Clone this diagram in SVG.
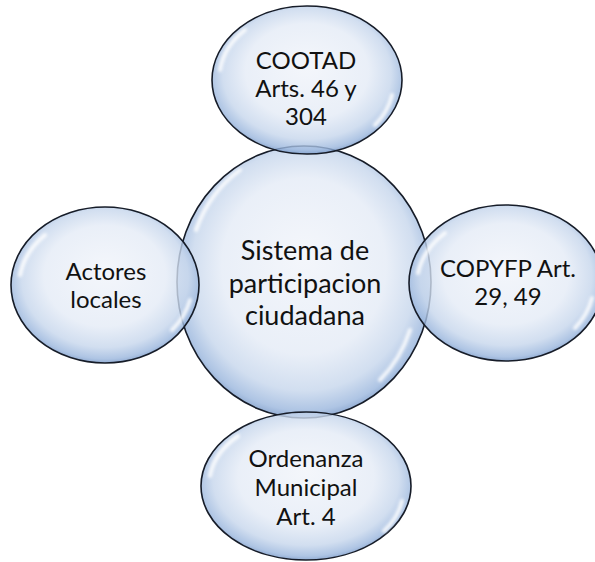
<svg xmlns="http://www.w3.org/2000/svg" width="595" height="562" viewBox="0 0 595 562">
<defs>
<radialGradient id="bub" cx="50%" cy="47%" r="54%" fx="50%" fy="40%">
<stop offset="0" stop-color="#f1f4fa"/>
<stop offset="0.6" stop-color="#e4ebf6"/>
<stop offset="0.82" stop-color="#c6d6ec"/>
<stop offset="0.94" stop-color="#9ab6dd"/>
<stop offset="1" stop-color="#6c8fc2"/>
</radialGradient>
<filter id="blur" x="-20%" y="-20%" width="140%" height="140%"><feGaussianBlur stdDeviation="1.8"/></filter>
</defs>
<style>
.b{fill:url(#bub);fill-opacity:0.8;stroke:#161c28;stroke-width:1.6}
.h{fill:none;stroke:#ffffff;stroke-width:4;stroke-linecap:round;opacity:0.85;filter:url(#blur)}
text{font-family:Lato,"Liberation Sans",sans-serif;fill:#111;text-anchor:middle}
.n{font-size:24px}
.c{font-size:27px}
</style>
<rect width="595" height="562" fill="#fff"/>
<g id="connectors"></g>
<g id="center">
<ellipse class="b" cx="304" cy="282" rx="127" ry="136"/>
<path class="h" d="M196,230 A118,126 0 0 1 240,170"/>
<path class="h" d="M410,330 A118,126 0 0 1 380,380"/>
<text class="c"><tspan x="305" y="260">Sistema de</tspan><tspan x="305" y="293">participacion</tspan><tspan x="305" y="325">ciudadana</tspan></text>
</g>
<g id="top">
<ellipse class="b" cx="307" cy="80" rx="95" ry="74"/>
<path class="h" d="M220,70 A87,68 0 0 1 245,30"/>
<path class="h" d="M392,95 A87,68 0 0 1 375,125"/>
<text class="n"><tspan x="306" y="69">COOTAD</tspan><tspan x="306" y="97">Arts. 46 y</tspan><tspan x="306" y="125">304</tspan></text>
</g>
<g id="left">
<ellipse class="b" cx="105" cy="285" rx="94" ry="78"/>
<path class="h" d="M20,275 A86,72 0 0 1 45,235"/>
<path class="h" d="M190,300 A86,72 0 0 1 172,330"/>
<text class="n"><tspan x="106" y="280">Actores</tspan><tspan x="106" y="308">locales</tspan></text>
</g>
<g id="right">
<ellipse class="b" cx="506" cy="283" rx="97" ry="78"/>
<path class="h" d="M418,273 A89,72 0 0 1 445,233"/>
<path class="h" d="M592,298 A89,72 0 0 1 575,328"/>
<text class="n"><tspan x="508" y="277">COPYFP Art.</tspan><tspan x="508" y="305">29, 49</tspan></text>
</g>
<g id="bottom">
<ellipse class="b" cx="306" cy="486" rx="105" ry="74"/>
<path class="h" d="M210,476 A97,68 0 0 1 238,436"/>
<path class="h" d="M402,501 A97,68 0 0 1 384,531"/>
<text class="n"><tspan x="306" y="467">Ordenanza</tspan><tspan x="306" y="496">Municipal</tspan><tspan x="306" y="525">Art. 4</tspan></text>
</g>
</svg>
